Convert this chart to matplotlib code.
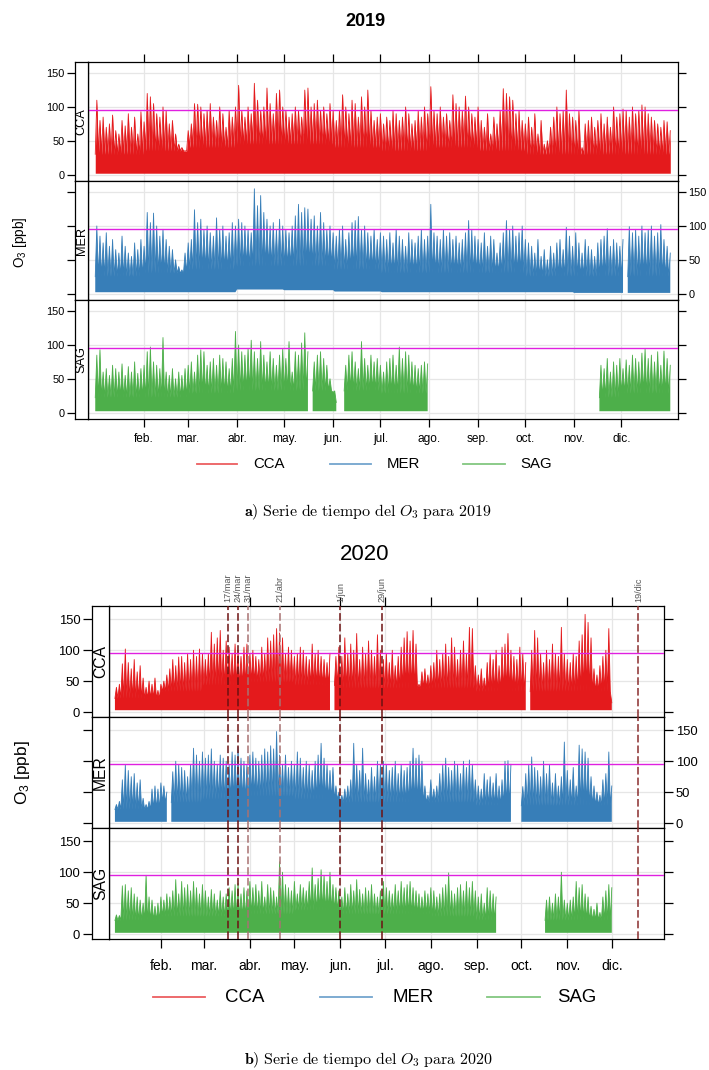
import numpy as np
import matplotlib
matplotlib.use("Agg")  # non-interactive backend
import matplotlib.pyplot as plt
from matplotlib.lines import Line2D

plt.rcParams["font.family"] = ["Liberation Sans", "DejaVu Sans"]
plt.rcParams["mathtext.fontset"] = "custom"
plt.rcParams["mathtext.rm"] = "Liberation Sans"
plt.rcParams["mathtext.it"] = "Liberation Sans"

nan = np.nan

# ── Data: O3 daily peaks (ppb), one value every 2 days ──
STATIONS     = ["CCA", "MER", "SAG"]
MONTH_LABELS = ["feb.", "mar.", "abr.", "may.", "jun.", "jul.", "ago.",
                "sep.", "oct.", "nov.", "dic."]
Y_TICKS      = [0, 50, 100, 150]
LIMIT_PPB    = 95

cca_2019 = ([110, 80, 85, 70, 75, 88, 65, 60, 80, 72, 90, 70, 85, 60, 93, 78]
            + [120, 115, 105, 90, 85, 100, 95, 75, 80, 60, 45, 40, 35, 65]
            + [75, 105, 104, 100, 90, 95, 105, 85, 80, 100, 90, 70, 95, 85, 100]
            + [132, 95, 85, 100, 90, 135, 110, 95, 100, 128, 105, 90, 120, 125, 100]
            + [95, 85, 90, 100, 95, 85, 125, 128, 100, 105, 110, 95, 100, 90, 105, 95]
            + [80, 95, 118, 100, 90, 110, 105, 85, 115, 100, 125, 95, 80, 85, 90]
            + [75, 85, 80, 95, 90, 80, 85, 100, 90, 75, 80, 95, 85, 100, 90]
            + [130, 95, 90, 100, 85, 90, 80, 118, 105, 100, 95, 116, 100, 90, 85, 100]
            + [80, 70, 90, 60, 85, 75, 95, 127, 120, 115, 110, 90, 95, 80, 75]
            + [85, 70, 90, 60, 80, 45, 50, 70, 85, 100, 90, 95, 125, 90, 85]
            + [80, 95, 40, 75, 80, 85, 70, 80, 90, 75, 85, 70, 100, 85, 90]
            + [97, 95, 85, 100, 90, 95, 103, 100, 90, 85, 80, 75, 70, 80, 78, 65])

mer_2019 = ([100, 85, 75, 90, 70, 80, 65, 60, 85, 70, 60, 55, 75, 65, 80, 70]
            + [120, 105, 119, 100, 85, 95, 80, 70, 65, 50, 40, 35, 60, 75]
            + [80, 124, 105, 110, 95, 100, 90, 85, 112, 95, 100, 85, 90, 105, 100]
            + [110, 105, 100, 95, 90, 155, 130, 145, 120, 110, 100, 105, 95, 110, 100]
            + [95, 90, 100, 115, 132, 120, 127, 125, 110, 115, 100, 120, 105, 95, 100, 90]
            + [85, 95, 100, 80, 90, 105, 108, 114, 95, 100, 90, 85, 95, 80, 90]
            + [85, 80, 90, 75, 95, 85, 80, 70, 90, 80, 75, 85, 95, 80, 85]
            + [132, 90, 85, 80, 95, 85, 90, 80, 85, 75, 80, 90, 108, 95, 85, 80]
            + [75, 90, 70, 85, 80, 60, 75, 90, 108, 95, 100, 85, 90, 100, 80]
            + [75, 70, 60, 80, 55, 65, 50, 70, 60, 75, 80, 65, 98, 85, 70]
            + [90, 75, 60, 80, 70, 65, 55, 75, 80, 85, 96, 70, 80, 75, 70]
            + [80, nan, 99, 90, 95, 85, 100, 90, 95, 100, 85, 90, 102, 80, 70, 60])

sag_2019 = ([85, 93, 60, 65, 55, 70, 65, 60, 72, 55, 68, 60, 75, 58, 65, 70]
            + [90, 97, 75, 70, 65, 111, 60, 55, 65, 50, 60, 55, 65, 70]
            + [75, 60, 85, 93, 90, 70, 75, 80, 70, 85, 80, 75, 65, 80, 120]
            + [100, 90, 85, 95, 107, 90, 80, 105, 85, 75, 90, 80, 70, 85, 95]
            + [80, 105, 60, 90, 85, 103, 118, 90, nan, 75, 85, 90, 80, 70, 50, 30]
            + [15, nan, nan, 70, 85, 90, 75, 65, 105, 80, 70, 85, 75, 80, 70]
            + [60, 75, 80, 85, 70, 97, 80, 90, 85, 75, 70, 65, 70, 75, 72]
            + [nan] * 16 + [nan] * 15 + [nan] * 15
            + [nan] * 8 + [70, 65, 80, 60, 75, 70, 80]
            + [65, 78, 70, 85, 80, 75, 88, 94, 80, 85, 75, 90, 70, 91, 80, 70])

cca_2020 = ([40, 45, 78, 102, 80, 70, 85, 65, 75, 55, 40, 50, 45, 55, 35, 45]
            + [50, 60, 70, 85, 75, 89, 90, 80, 95, 85, 100, 90, 102, 95]
            + [85, 95, 129, 110, 120, 132, 100, 115, 105, 95, 110, 100, 90, 105, 110, 95]
            + [100, 90, 85, 105, 95, 120, 115, 125, 135, 128, 120, 95, 105, 100, 90]
            + [95, 105, 100, 90, 85, 110, 95, 100, 90, 85, 80, 95, nan, 90, 105]
            + [90, 120, 95, 110, 100, 127, 85, 105, 95, 115, 100, 90, 125, 100, 85]
            + [95, 80, 100, 75, 90, 105, 120, 130, 115, 132, 110, 45, 65, 70, 60, 75]
            + [80, 100, 85, 95, 110, 90, 120, 105, 85, 100, 115, 95, 137, 135, 75]
            + [60, 70, 55, 80, 95, 85, 100, 75, 105, 110, 127, 100, 90, 85, 105]
            + [95, 80, nan, 100, 132, 120, 95, 80, 100, 85, 110, 95, 90, 137, 95, 85]
            + [80, 95, 90, 115, 125, 158, 145, 120, 70, 60, 75, 90, 100, 135, 15])

mer_2020 = ([30, 35, 70, 94, 85, 75, 80, 65, 70, 40, 30, 35, 55, 60, 55, 65]
            + [60, 50, nan, 83, 100, 95, 90, 85, 75, 95, 121, 110, 100, 115]
            + [105, 110, 120, 100, 95, 110, 105, 100, 95, 115, 110, 123, 105, 100, 95, 110]
            + [115, 105, 100, 110, 120, 115, 125, 120, 148, 110, 95, 110, 90, 100, 95]
            + [115, 105, 90, 100, 95, 85, 100, 110, 129, 105, 95, 85, 90, 60, 50]
            + [45, 55, 60, 70, 129, 95, 85, 121, 80, 70, 90, 75, 100, 95, 100]
            + [95, 85, 90, 100, 80, 95, 85, 90, 100, 121, 105, 110, 100, 60, 45, 70]
            + [55, 60, 80, 95, 105, 90, 85, 100, 95, 80, 100, 90, 102, 95, 70]
            + [60, 55, 80, 70, 75, 65, 80, 60, 70, 100, 101, 95, nan, nan, nan]
            + [59, 80, 95, 107, 90, 85, 75, 100, 80, 95, 65, 80, 60, 75, 131, 85]
            + [70, 90, 60, 126, 120, 115, 105, 75, 60, 50, 45, 70, 80, 115, 60])

sag_2020 = ([31, 30, 78, 80, 70, 75, 65, 60, 55, 50, 95, 60, 55, 45, 50, 60]
            + [55, 65, 60, 70, 88, 65, 85, 75, 80, 70, 85, 75, 65, 80]
            + [70, 60, 72, 65, 55, 70, 60, 65, 75, 70, 80, 82, 65, 75, 70, 85]
            + [75, 80, 70, 85, 60, 80, 75, 70, 60, 117, 100, 80, 75, 70, 85]
            + [65, 80, 75, 70, 85, 107, 80, 90, 104, 95, 85, 100, 80, 75, 70]
            + [60, 75, 65, 80, 70, 88, 72, 65, 75, 70, 80, 65, 60, 70, 85]
            + [75, 70, 65, 80, 70, 85, 75, 80, 85, 75, 70, 65, 60, 70, 65, 75]
            + [70, 60, 65, 75, 80, 99, 70, 65, 75, 80, 70, 85, 75, 85, 70]
            + [60, 65, 50, 75, 70, 65, 60] + [nan] * 8
            + [nan] * 8 + [55, 60, 50, 65, 60, 100, 55, 50]
            + [55, 60, 85, 75, 80, 65, 60, 45, 40, 50, 35, 60, 70, 80, 75])

# night-time minimum per month (ppb)
lows_2019 = {"CCA": [2, 2, 2, 2, 2, 2, 2, 2, 2, 2, 2, 2],
             "MER": [2, 2, 2, 6, 5, 3, 2, 2, 2, 2, 1, 1],
             "SAG": [2, 2, 2, 2, 2, 2, 2, 2, 2, 2, 2, 2]}
lows_2020 = {"CCA": [3, 3, 3, 3, 3, 3, 3, 3, 3, 3, 3, 3],
             "MER": [2, 2, 2, 2, 2, 2, 2, 2, 2, 2, 2, 2],
             "SAG": [2, 2, 2, 2, 2, 2, 2, 2, 2, 2, 2, 2]}

# top of the dense band per month (ppb)
band_2019 = {"CCA": [30, 35, 40, 45, 45, 40, 35, 40, 35, 30, 30, 30],
             "MER": [25, 30, 35, 40, 40, 35, 30, 30, 30, 25, 25, 25],
             "SAG": [22, 22, 28, 32, 32, 32, 28, 22, 22, 22, 22, 28]}
band_2020 = {"CCA": [22, 33, 43, 48, 43, 38, 38, 38, 33, 33, 33, 33],
             "MER": [22, 33, 38, 43, 38, 33, 33, 33, 28, 28, 28, 28],
             "SAG": [22, 28, 28, 32, 38, 32, 32, 28, 22, 22, 22, 22]}

# 2020 event dates (vertical dashed lines)
event_dates  = ["2020-03-17", "2020-03-24", "2020-03-31", "2020-04-21",
                "2020-06-01", "2020-06-29", "2020-12-19"]
event_labels = ["17/mar", "24/mar", "31/mar", "21/abr", "1/jun", "29/jun", "19/dic"]

# ── Styling ─────────────────────────────────────────────────
COLORS = {"CCA": "#E41A1C", "MER": "#377EB8", "SAG": "#4DAF4A"}
EVENT_COLORS = ["#6e1212", "#6e1212", "#a87272", "#a87272",
                "#6e1212", "#6e1212", "#8a2e2e"]

W, H = 709, 1070
fig = plt.figure(figsize=(W / 100, H / 100), dpi=100)


def box(x0, y0, x1, y1):
    return [x0 / W, 1 - y1 / H, (x1 - x0) / W, (y1 - y0) / H]


def day_of_year(year, dates):
    return (np.array(dates, dtype="datetime64[D]") - np.datetime64(f"{year}-01-01")).astype(int)


def month_starts(year):
    m = np.arange(np.datetime64(f"{year}-02"), np.datetime64(f"{year + 1}-01"))
    return day_of_year(year, m.astype("datetime64[D]"))


def zigzag(peaks, lows, band, year):
    # band level -> afternoon peak, one cycle every 2 days; floor = night minimum
    start = np.datetime64(f"{year}-01-01")
    xs, ys, fl = [], [], []
    for i, p in enumerate(peaks):
        d = 2 * i
        m = int((start + d).astype("datetime64[M]").astype(int) % 12)
        ok = p == p
        xs += [d, d + 1]
        ys += [band[m] if ok else nan, p]
        fl += [lows[m], lows[m]]
    return np.array(xs, float), np.array(ys, float), np.array(fl, float)


def draw_year(year, series, lows, band, g, sz, events=None):
    xt = month_starts(year)
    axes = []
    for k, st in enumerate(STATIONS):
        y0 = g["top"] + k * g["ph"]
        ax = fig.add_axes(box(g["inner"], y0, g["right"], y0 + g["ph"]))
        sax = fig.add_axes(box(g["outer"], y0, g["inner"], y0 + g["ph"]))

        xs, ys, fl = zigzag(series[st], lows[st], band[st], year)
        ax.fill_between(xs, fl, ys, color=COLORS[st], lw=0, zorder=2)
        ax.plot(xs, ys, color=COLORS[st], lw=0.6, zorder=2)
        ax.axhline(LIMIT_PPB, color="#E020E0", lw=1.0, zorder=3)
        ax.set_xlim(*g["xlim"])
        ax.set_ylim(*g["ylim"])
        ax.set_xticks(xt)
        ax.set_xticklabels(MONTH_LABELS)
        ax.set_yticks(Y_TICKS)
        ax.grid(True, color="#e6e6e6", lw=0.9)
        ax.set_axisbelow(True)
        ax.tick_params(axis="x", direction="out", length=sz["tick"], width=0.9,
                       top=(k == 0), bottom=(k == 2), labeltop=False,
                       labelbottom=(k == 2), labelsize=sz["month"], pad=sz["mpad"])
        ax.tick_params(axis="y", direction="out", length=sz["tick"], width=0.9,
                       left=False, labelleft=False, right=True,
                       labelright=(k == 1), labelsize=sz["num"], pad=2)
        for s in ax.spines.values():
            s.set_linewidth(0.9)

        if events is not None:
            for d, c in zip(events, EVENT_COLORS):
                ax.axvline(d, color=c, lw=1.1, dashes=(5, 2), zorder=4)

        sax.set_xlim(0, 1)
        sax.set_ylim(*g["ylim"])
        sax.set_xticks([])
        sax.set_yticks(Y_TICKS)
        sax.tick_params(axis="y", direction="out", length=sz["tick"], width=0.9,
                        labelleft=(k != 1), labelsize=sz["num"], pad=2)
        for s in sax.spines.values():
            s.set_linewidth(0.9)
        sax.text(0.5, 0.5, st, rotation=90, ha="center", va="center",
                 transform=sax.transAxes, fontsize=sz["strip"])
        axes.append(ax)
    return axes


def legend_row(y, segs, text_x, fs):
    for st, (x0, x1), tx in zip(STATIONS, segs, text_x):
        fig.add_artist(Line2D([x0 / W, x1 / W], [1 - y / H] * 2,
                              color=COLORS[st], alpha=0.7, lw=1.3))
        fig.text(tx / W, 1 - y / H, st, fontsize=fs, ha="left", va="center")


def caption(y, letter, year):
    fig.text(368 / W, 1 - y / H,
             rf"$\mathbf{{{letter})}}\ \mathrm{{Serie\ de\ tiempo\ del}}\ O_3\ \mathrm{{para\ {year}}}$",
             fontsize=11.5, ha="center", va="center", math_fontfamily="cm")


# ── 2019 ────────────────────────────────────────────────────
g19 = dict(outer=75, inner=88, right=678, top=62, ph=119,
           xlim=(-4.6, 369.9), ylim=(-9.5, 166.5))
s19 = dict(tick=5.5, month=8.6, mpad=4.5, num=7.9, strip=9.2)
draw_year(2019, {"CCA": cca_2019, "MER": mer_2019, "SAG": sag_2019},
          lows_2019, band_2019, g19, s19)
fig.text(365 / W, 1 - 21 / H, "2019", fontsize=13, fontweight="bold",
         ha="center", va="center")
fig.text(20 / W, 1 - 242 / H, r"O$_3$ [ppb]", fontsize=9.8, rotation=90,
         ha="center", va="center")
legend_row(464, [(197, 237), (330, 371), (463, 505)], [253, 387, 520], 10.8)
caption(512, "a", 2019)

# ── 2020 ────────────────────────────────────────────────────
g20 = dict(outer=92, inner=109, right=664, top=606, ph=111,
           xlim=(-4.0, 370.2), ylim=(-8.0, 171.5))
s20 = dict(tick=6.5, month=10, mpad=8, num=9.4, strip=11.3)
ev = day_of_year(2020, event_dates)
axes20 = draw_year(2020, {"CCA": cca_2020, "MER": mer_2020, "SAG": sag_2020},
                   lows_2020, band_2020, g20, s20, events=ev)
top_ax = axes20[0]
for d, lab in zip(ev, event_labels):
    top_ax.text(d, 1.035, lab, transform=top_ax.get_xaxis_transform(),
                rotation=90, ha="center", va="bottom", fontsize=6.6, color="#555555")
fig.text(365 / W, 1 - 555 / H, "2020", fontsize=16, ha="center", va="center")
fig.text(23 / W, 1 - 773 / H, r"O$_3$ [ppb]", fontsize=12.4, rotation=90,
         ha="center", va="center")
legend_row(997, [(153, 205), (320, 372), (487, 540)], [225, 392, 557], 13.4)
caption(1060, "b", 2020)

fig.savefig("out.png", dpi=100)
